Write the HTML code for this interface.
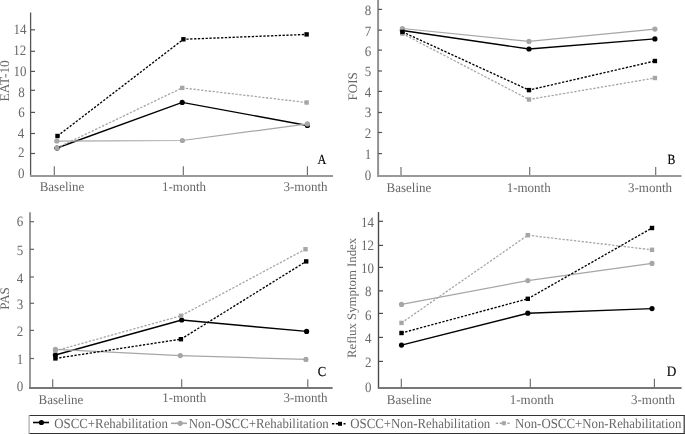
<!DOCTYPE html>
<html><head><meta charset="utf-8"><style>
html,body{margin:0;padding:0;background:#fff;width:685px;height:434px;overflow:hidden}
svg{display:block;filter:grayscale(1) blur(0.5px)}
text{font-family:"Liberation Serif", serif;font-size:13px;fill:#686868;text-rendering:geometricPrecision}
</style></head><body>
<svg width="685" height="434" viewBox="0 0 685 434">
<line x1="30.6" y1="12.5" x2="30.6" y2="176" stroke="#555" stroke-width="1.3"/>
<line x1="30" y1="176" x2="333" y2="176" stroke="#999" stroke-width="1.8"/>
<line x1="30.6" y1="29.8" x2="35" y2="29.8" stroke="#555" stroke-width="1.2"/>
<text transform="translate(19.9 33.94) scale(1 1.1)" text-anchor="middle">14</text>
<line x1="30.6" y1="51.3" x2="35" y2="51.3" stroke="#555" stroke-width="1.2"/>
<text transform="translate(19.8 55.04) scale(1 1.1)" text-anchor="middle">12</text>
<line x1="30.6" y1="71.4" x2="35" y2="71.4" stroke="#555" stroke-width="1.2"/>
<text transform="translate(20.1 75.74) scale(1 1.1)" text-anchor="middle">10</text>
<line x1="30.6" y1="90.3" x2="35" y2="90.3" stroke="#555" stroke-width="1.2"/>
<text transform="translate(21.4 97.04) scale(1 1.1)" text-anchor="middle">8</text>
<line x1="30.6" y1="112.4" x2="35" y2="112.4" stroke="#555" stroke-width="1.2"/>
<text transform="translate(21.4 117.44) scale(1 1.1)" text-anchor="middle">6</text>
<line x1="30.6" y1="133.5" x2="35" y2="133.5" stroke="#555" stroke-width="1.2"/>
<text transform="translate(21.1 137.64) scale(1 1.1)" text-anchor="middle">4</text>
<line x1="30.6" y1="153.5" x2="35" y2="153.5" stroke="#555" stroke-width="1.2"/>
<text transform="translate(21.3 157.44) scale(1 1.1)" text-anchor="middle">2</text>
<text transform="translate(21.2 178.44) scale(1 1.1)" text-anchor="middle">0</text>
<line x1="54.3" y1="166.3" x2="54.3" y2="175" stroke="#666" stroke-width="1.1"/>
<line x1="183.3" y1="166.3" x2="183.3" y2="175" stroke="#666" stroke-width="1.1"/>
<line x1="307.4" y1="166.3" x2="307.4" y2="175" stroke="#666" stroke-width="1.1"/>
<text transform="translate(62 191) scale(1 1.03)" text-anchor="middle">Baseline</text>
<text transform="translate(184 191) scale(1 1.03)" text-anchor="middle">1-month</text>
<text transform="translate(305.5 191) scale(1 1.03)" text-anchor="middle">3-month</text>
<text transform="translate(317.4 163.9) scale(0.94 1.08)" style="fill:#000;stroke:#000;stroke-width:0.15px">A</text>
<text transform="translate(9.2 80.8) rotate(-90)" text-anchor="middle" style="font-size:13.4px">EAT-10</text>
<polyline points="57,148 182.2,102.4 307.4,125.5" fill="none" stroke="#000" stroke-width="1.45"/>
<circle cx="57" cy="148" r="2.6" fill="#000"/>
<circle cx="182.2" cy="102.4" r="2.6" fill="#000"/>
<circle cx="307.4" cy="125.5" r="2.6" fill="#000"/>
<polyline points="56.8,141 182.4,140.5 307.4,123.9" fill="none" stroke="#a6a6a6" stroke-width="1.25"/>
<circle cx="56.8" cy="141" r="2.6" fill="#a6a6a6"/>
<circle cx="182.4" cy="140.5" r="2.6" fill="#a6a6a6"/>
<circle cx="307.4" cy="123.9" r="2.6" fill="#a6a6a6"/>
<polyline points="57,148 182.2,87.9 306.6,102.5" fill="none" stroke="#a6a6a6" stroke-width="1.3" stroke-dasharray="2.3 1.55"/>
<rect x="54.8" y="145.8" width="4.4" height="4.4" fill="#a6a6a6"/>
<rect x="180" y="85.7" width="4.4" height="4.4" fill="#a6a6a6"/>
<rect x="304.4" y="100.3" width="4.4" height="4.4" fill="#a6a6a6"/>
<polyline points="57.5,136 183.4,39.3 306.6,34.4" fill="none" stroke="#000" stroke-width="1.35" stroke-dasharray="2.3 1.55"/>
<rect x="55.3" y="133.8" width="4.4" height="4.4" fill="#000"/>
<rect x="181.2" y="37.1" width="4.4" height="4.4" fill="#000"/>
<rect x="304.4" y="32.2" width="4.4" height="4.4" fill="#000"/>
<line x1="378.1" y1="0" x2="378.1" y2="176" stroke="#929292" stroke-width="2"/>
<line x1="377" y1="176" x2="681.5" y2="176" stroke="#999" stroke-width="1.8"/>
<line x1="378.1" y1="9.4" x2="382" y2="9.4" stroke="#555" stroke-width="1.2"/>
<text transform="translate(368 14.84) scale(1 1.1)" text-anchor="middle">8</text>
<line x1="378.1" y1="30.1" x2="382" y2="30.1" stroke="#555" stroke-width="1.2"/>
<text transform="translate(368 35.54) scale(1 1.1)" text-anchor="middle">7</text>
<line x1="378.1" y1="50.1" x2="382" y2="50.1" stroke="#555" stroke-width="1.2"/>
<text transform="translate(368 56.24) scale(1 1.1)" text-anchor="middle">6</text>
<line x1="378.1" y1="71" x2="382" y2="71" stroke="#555" stroke-width="1.2"/>
<text transform="translate(368 76.24) scale(1 1.1)" text-anchor="middle">5</text>
<line x1="378.1" y1="91.4" x2="382" y2="91.4" stroke="#555" stroke-width="1.2"/>
<text transform="translate(368 96.94) scale(1 1.1)" text-anchor="middle">4</text>
<line x1="378.1" y1="112.5" x2="382" y2="112.5" stroke="#555" stroke-width="1.2"/>
<text transform="translate(368 117.14) scale(1 1.1)" text-anchor="middle">3</text>
<line x1="378.1" y1="132.5" x2="382" y2="132.5" stroke="#555" stroke-width="1.2"/>
<text transform="translate(368 138.44) scale(1 1.1)" text-anchor="middle">2</text>
<line x1="378.1" y1="153.6" x2="382" y2="153.6" stroke="#555" stroke-width="1.2"/>
<text transform="translate(368 158.94) scale(1 1.1)" text-anchor="middle">1</text>
<text transform="translate(368 179.54) scale(1 1.1)" text-anchor="middle">0</text>
<line x1="401" y1="166.9" x2="401" y2="175" stroke="#666" stroke-width="1.1"/>
<line x1="529.7" y1="166.9" x2="529.7" y2="175" stroke="#666" stroke-width="1.1"/>
<line x1="655.7" y1="166.9" x2="655.7" y2="175" stroke="#666" stroke-width="1.1"/>
<text transform="translate(408.9 191.5) scale(1 1.03)" text-anchor="middle">Baseline</text>
<text transform="translate(528.7 191.5) scale(1 1.03)" text-anchor="middle">1-month</text>
<text transform="translate(650 191.5) scale(1 1.03)" text-anchor="middle">3-month</text>
<text transform="translate(667.5 163.7) scale(0.9 1.08)" style="fill:#000;stroke:#000;stroke-width:0.15px">B</text>
<text transform="translate(357.3 86.3) rotate(-90)" text-anchor="middle">FOIS</text>
<polyline points="402.4,30.5 529,49 654.9,38.9" fill="none" stroke="#000" stroke-width="1.45"/>
<circle cx="402.4" cy="30.5" r="2.6" fill="#000"/>
<circle cx="529" cy="49" r="2.6" fill="#000"/>
<circle cx="654.9" cy="38.9" r="2.6" fill="#000"/>
<polyline points="402.4,28.5 529,41.4 654.9,29.1" fill="none" stroke="#a6a6a6" stroke-width="1.25"/>
<circle cx="402.4" cy="28.5" r="2.6" fill="#a6a6a6"/>
<circle cx="529" cy="41.4" r="2.6" fill="#a6a6a6"/>
<circle cx="654.9" cy="29.1" r="2.6" fill="#a6a6a6"/>
<polyline points="402.4,33.6 529,99.5 654.9,78" fill="none" stroke="#a6a6a6" stroke-width="1.3" stroke-dasharray="2.3 1.55"/>
<rect x="400.2" y="31.4" width="4.4" height="4.4" fill="#a6a6a6"/>
<rect x="526.8" y="97.3" width="4.4" height="4.4" fill="#a6a6a6"/>
<rect x="652.7" y="75.8" width="4.4" height="4.4" fill="#a6a6a6"/>
<polyline points="402.4,31.9 529,90.1 654.9,61" fill="none" stroke="#000" stroke-width="1.35" stroke-dasharray="2.3 1.55"/>
<rect x="400.2" y="29.7" width="4.4" height="4.4" fill="#000"/>
<rect x="526.8" y="87.9" width="4.4" height="4.4" fill="#000"/>
<rect x="652.7" y="58.8" width="4.4" height="4.4" fill="#000"/>
<line x1="30" y1="212.3" x2="30" y2="388" stroke="#999" stroke-width="2"/>
<line x1="29" y1="388" x2="332.6" y2="388" stroke="#777" stroke-width="1.8"/>
<line x1="30" y1="221.7" x2="34" y2="221.7" stroke="#666" stroke-width="1.2"/>
<text transform="translate(20 226.44) scale(1 1.1)" text-anchor="middle">6</text>
<line x1="30" y1="249.3" x2="34" y2="249.3" stroke="#666" stroke-width="1.2"/>
<text transform="translate(20 254.84) scale(1 1.1)" text-anchor="middle">5</text>
<line x1="30" y1="277" x2="34" y2="277" stroke="#666" stroke-width="1.2"/>
<text transform="translate(20 283.04) scale(1 1.1)" text-anchor="middle">4</text>
<line x1="30" y1="303.3" x2="34" y2="303.3" stroke="#666" stroke-width="1.2"/>
<text transform="translate(20 308.94) scale(1 1.1)" text-anchor="middle">3</text>
<line x1="30" y1="330.4" x2="34" y2="330.4" stroke="#666" stroke-width="1.2"/>
<text transform="translate(20 335.74) scale(1 1.1)" text-anchor="middle">2</text>
<line x1="30" y1="358.5" x2="34" y2="358.5" stroke="#666" stroke-width="1.2"/>
<text transform="translate(20 363.84) scale(1 1.1)" text-anchor="middle">1</text>
<text transform="translate(20 391.14) scale(1 1.1)" text-anchor="middle">0</text>
<line x1="52.7" y1="379.2" x2="52.7" y2="387" stroke="#666" stroke-width="1.1"/>
<line x1="181.7" y1="379.2" x2="181.7" y2="387" stroke="#666" stroke-width="1.1"/>
<line x1="307.8" y1="379.2" x2="307.8" y2="387" stroke="#666" stroke-width="1.1"/>
<text transform="translate(60.9 403.9) scale(1 1.03)" text-anchor="middle">Baseline</text>
<text transform="translate(184.2 401.9) scale(1 1.03)" text-anchor="middle">1-month</text>
<text transform="translate(305.5 402) scale(1 1.03)" text-anchor="middle">3-month</text>
<text transform="translate(317.7 375.7) scale(0.97 1.06)" style="fill:#000;stroke:#000;stroke-width:0.15px">C</text>
<text transform="translate(9.4 298.5) rotate(-90)" text-anchor="middle">PAS</text>
<polyline points="55.4,355 181.7,320 306.6,331.4" fill="none" stroke="#000" stroke-width="1.45"/>
<circle cx="55.4" cy="355" r="2.6" fill="#000"/>
<circle cx="181.7" cy="320" r="2.6" fill="#000"/>
<circle cx="306.6" cy="331.4" r="2.6" fill="#000"/>
<polyline points="55.4,349.4 180.3,355.6 305.9,359.4" fill="none" stroke="#a6a6a6" stroke-width="1.25"/>
<circle cx="55.4" cy="349.4" r="2.6" fill="#a6a6a6"/>
<circle cx="180.3" cy="355.6" r="2.6" fill="#a6a6a6"/>
<circle cx="305.9" cy="359.4" r="2.6" fill="#a6a6a6"/>
<polyline points="55.4,350.8 181,315.8 305.5,249.2" fill="none" stroke="#a6a6a6" stroke-width="1.3" stroke-dasharray="2.3 1.55"/>
<rect x="53.2" y="348.6" width="4.4" height="4.4" fill="#a6a6a6"/>
<rect x="178.8" y="313.6" width="4.4" height="4.4" fill="#a6a6a6"/>
<rect x="303.3" y="247" width="4.4" height="4.4" fill="#a6a6a6"/>
<polyline points="55.4,358.4 180.9,339.2 306.2,261.4" fill="none" stroke="#000" stroke-width="1.35" stroke-dasharray="2.3 1.55"/>
<rect x="53.2" y="356.2" width="4.4" height="4.4" fill="#000"/>
<rect x="178.7" y="337" width="4.4" height="4.4" fill="#000"/>
<rect x="304" y="259.2" width="4.4" height="4.4" fill="#000"/>
<line x1="378.5" y1="212.1" x2="378.5" y2="388" stroke="#4a4a4a" stroke-width="1.4"/>
<line x1="377.8" y1="388" x2="681.6" y2="388" stroke="#777" stroke-width="1.8"/>
<line x1="378.5" y1="221.3" x2="383" y2="221.3" stroke="#4a4a4a" stroke-width="1.2"/>
<text transform="translate(367.5 226.94) scale(1 1.1)" text-anchor="middle">14</text>
<line x1="378.5" y1="245.4" x2="383" y2="245.4" stroke="#4a4a4a" stroke-width="1.2"/>
<text transform="translate(367.5 250.34) scale(1 1.1)" text-anchor="middle">12</text>
<line x1="378.5" y1="267.4" x2="383" y2="267.4" stroke="#4a4a4a" stroke-width="1.2"/>
<text transform="translate(367.5 272.64) scale(1 1.1)" text-anchor="middle">10</text>
<line x1="378.5" y1="290.9" x2="383" y2="290.9" stroke="#4a4a4a" stroke-width="1.2"/>
<text transform="translate(368.2 295.84) scale(1 1.1)" text-anchor="middle">8</text>
<line x1="378.5" y1="313.4" x2="383" y2="313.4" stroke="#4a4a4a" stroke-width="1.2"/>
<text transform="translate(368.2 319.74) scale(1 1.1)" text-anchor="middle">6</text>
<line x1="378.5" y1="337.4" x2="383" y2="337.4" stroke="#4a4a4a" stroke-width="1.2"/>
<text transform="translate(368.2 343.04) scale(1 1.1)" text-anchor="middle">4</text>
<line x1="378.5" y1="361.4" x2="383" y2="361.4" stroke="#4a4a4a" stroke-width="1.2"/>
<text transform="translate(368.2 366.64) scale(1 1.1)" text-anchor="middle">2</text>
<text transform="translate(368.2 391.64) scale(1 1.1)" text-anchor="middle">0</text>
<line x1="401.3" y1="378.8" x2="401.3" y2="387" stroke="#666" stroke-width="1.1"/>
<line x1="530.3" y1="378.8" x2="530.3" y2="387" stroke="#666" stroke-width="1.1"/>
<line x1="654.4" y1="378.8" x2="654.4" y2="387" stroke="#666" stroke-width="1.1"/>
<text transform="translate(409.2 404.1) scale(1 1.03)" text-anchor="middle">Baseline</text>
<text transform="translate(531.8 404.1) scale(1 1.03)" text-anchor="middle">1-month</text>
<text transform="translate(653 404) scale(1 1.03)" text-anchor="middle">3-month</text>
<text transform="translate(666.8 376) scale(1.02 1.1)" style="fill:#000;stroke:#000;stroke-width:0.15px">D</text>
<text transform="translate(355.6 297.9) rotate(-90)" text-anchor="middle" style="font-size:12.8px">Reflux Symptom Index</text>
<polyline points="401.5,345.1 527.8,313.2 652,308.6" fill="none" stroke="#000" stroke-width="1.45"/>
<circle cx="401.5" cy="345.1" r="2.6" fill="#000"/>
<circle cx="527.8" cy="313.2" r="2.6" fill="#000"/>
<circle cx="652" cy="308.6" r="2.6" fill="#000"/>
<polyline points="401.5,304.4 527.8,280.6 652,263.4" fill="none" stroke="#a6a6a6" stroke-width="1.25"/>
<circle cx="401.5" cy="304.4" r="2.6" fill="#a6a6a6"/>
<circle cx="527.8" cy="280.6" r="2.6" fill="#a6a6a6"/>
<circle cx="652" cy="263.4" r="2.6" fill="#a6a6a6"/>
<polyline points="401.5,322.9 527.8,235.2 652,249.8" fill="none" stroke="#a6a6a6" stroke-width="1.3" stroke-dasharray="2.3 1.55"/>
<rect x="399.3" y="320.7" width="4.4" height="4.4" fill="#a6a6a6"/>
<rect x="525.6" y="233" width="4.4" height="4.4" fill="#a6a6a6"/>
<rect x="649.8" y="247.6" width="4.4" height="4.4" fill="#a6a6a6"/>
<polyline points="401.5,333 527.8,298.8 652,228" fill="none" stroke="#000" stroke-width="1.35" stroke-dasharray="2.3 1.55"/>
<rect x="399.3" y="330.8" width="4.4" height="4.4" fill="#000"/>
<rect x="525.6" y="296.6" width="4.4" height="4.4" fill="#000"/>
<rect x="649.8" y="225.8" width="4.4" height="4.4" fill="#000"/>
<line x1="29" y1="415.5" x2="684.6" y2="415.5" stroke="#333" stroke-width="1.1"/>
<line x1="29" y1="433.5" x2="684.6" y2="433.5" stroke="#333" stroke-width="1.2"/>
<line x1="684.2" y1="415" x2="684.2" y2="434" stroke="#333" stroke-width="1.2"/>
<line x1="29.1" y1="415" x2="29.1" y2="434" stroke="#a8a8a8" stroke-width="1.2"/>
<line x1="33" y1="422.5" x2="49" y2="422.5" stroke="#000" stroke-width="1.6"/>
<circle cx="41.4" cy="422.5" r="2.6" fill="#000"/>
<text transform="translate(54.3 427.6) scale(1 1.08)" style="font-size:12.85px">OSCC+Rehabilitation</text>
<line x1="171" y1="423.3" x2="187" y2="423.3" stroke="#a6a6a6" stroke-width="1.6"/>
<circle cx="180.2" cy="423.3" r="2.6" fill="#a6a6a6"/>
<text transform="translate(188.8 427.6) scale(1 1.08)" style="font-size:12.85px">Non-OSCC+Rehabilitation</text>
<line x1="332" y1="423.8" x2="345.5" y2="423.8" stroke="#000" stroke-width="1.6" stroke-dasharray="2.3 1.55"/>
<rect x="338" y="421.8" width="4" height="4" fill="#000"/>
<text transform="translate(350.3 427.6) scale(1 1.08)" style="font-size:12.85px">OSCC+Non-Rehabilitation</text>
<line x1="495.8" y1="423.2" x2="509.8" y2="423.2" stroke="#a6a6a6" stroke-width="1.6" stroke-dasharray="2.3 1.55"/>
<rect x="501.9" y="421.2" width="4" height="4" fill="#a6a6a6"/>
<text transform="translate(515 427.6) scale(1 1.08)" style="font-size:12.85px">Non-OSCC+Non-Rehabilitation</text>
</svg>
</body></html>
